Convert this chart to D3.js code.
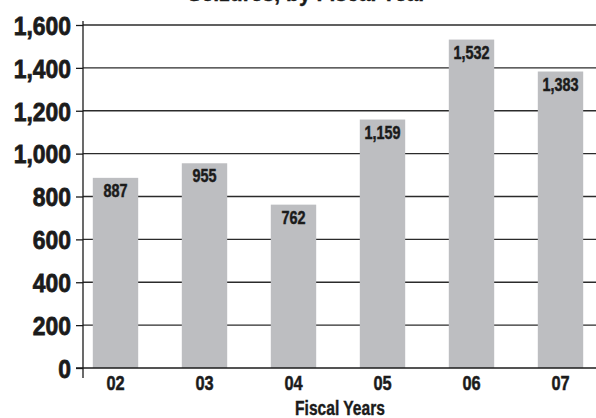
<!DOCTYPE html>
<html>
<head>
<meta charset="utf-8">
<script src="https://cdn.jsdelivr.net/npm/d3@7"></script>
<style>
  html, body { margin: 0; padding: 0; background: #fff; }
  svg { display: block; }
  text { font-family: "Liberation Sans", Arial, sans-serif; font-weight: bold; fill: #1b1b1b; }
</style>
</head>
<body>
<svg id="chart" width="596" height="418"></svg>
<script>
// Fiscal-year totals
const years = ["02", "03", "04", "05", "06", "07"];
const totals = [887, 955, 762, 1159, 1532, 1383];
const yTicks = [0, 200, 400, 600, 800, 1000, 1200, 1400, 1600];
const chartTitle = "Seizures, by Fiscal Year";
const xTitle = "Fiscal Years";

const svg = d3.select("#chart");
const axisX = 83, plotRight = 596, plotTop = 25, plotBottom = 368;
const ink = "#1b1b1b";

const y = d3.scaleLinear().domain([0, 1600]).range([plotBottom, plotTop]);
const x = d3.scaleBand().domain(years).range([71, 605]).paddingInner(0.49).paddingOuter(0.245);

// narrow heavy lettering: squeeze a bold face horizontally around its anchor point
function narrowText(sel, px, py, size, sx) {
  return sel.append("text")
    .attr("transform", `translate(${px},${py}) scale(${sx},1)`)
    .attr("text-anchor", "middle")
    .attr("font-size", size);
}

// title (sits mostly above the visible area)
narrowText(svg, 307, 0.5, 22, 0.96)
  .attr("stroke", ink).attr("stroke-width", 0.4)
  .text(chartTitle);

// horizontal gridlines
svg.append("g").selectAll("line")
  .data(yTicks.filter(d => d > 0))
  .join("line")
  .attr("x1", axisX).attr("x2", plotRight)
  .attr("y1", d => y(d)).attr("y2", d => y(d))
  .attr("stroke", "#2b2b2b").attr("stroke-width", 1.3);

const rows = years.map((yr, i) => ({ yr, v: totals[i] }));

// bars
svg.append("g").selectAll("rect")
  .data(rows)
  .join("rect")
  .attr("x", d => x(d.yr))
  .attr("width", x.bandwidth())
  .attr("y", d => y(d.v))
  .attr("height", d => y(0) - y(d.v))
  .attr("fill", "#bdbec1");

// value labels inside bar tops
const fmt = d3.format(",");
const labels = svg.append("g");
rows.forEach(d => {
  narrowText(labels, x(d.yr) + x.bandwidth() / 2, y(d.v) + 19, 18, 0.8)
    .attr("stroke", ink).attr("stroke-width", 0.5)
    .text(fmt(d.v));
});

// y axis
const ySx = 0.88;
const yAxis = d3.axisLeft(y).tickValues(yTicks).tickFormat(fmt).tickSize(7).tickPadding(5);
const gy = svg.append("g").attr("transform", `translate(${axisX},0)`).call(yAxis);
gy.select(".domain").remove();
gy.selectAll(".tick line").attr("stroke", ink).attr("stroke-width", 1.3);
gy.selectAll(".tick text")
  .attr("font-size", 26).attr("font-family", null).attr("fill", ink)
  .attr("stroke", ink).attr("stroke-width", 0.8)
  .attr("x", -12 / ySx)
  .attr("transform", `scale(${ySx},1)`)
  .attr("dy", "0.36em");
svg.append("line")
  .attr("x1", axisX).attr("x2", axisX)
  .attr("y1", plotTop - 4).attr("y2", plotBottom + 10)
  .attr("stroke", ink).attr("stroke-width", 1.3);

// x axis
const xAxis = d3.axisBottom(x).tickSize(0).tickPadding(7);
const gx = svg.append("g").attr("transform", `translate(0,${plotBottom})`).call(xAxis);
gx.select(".domain").remove();
gx.selectAll(".tick text")
  .attr("font-size", 21).attr("font-family", null).attr("fill", ink)
  .attr("stroke", ink).attr("stroke-width", 0.5)
  .attr("transform", "scale(0.78,1)")
  .attr("dy", "0.71em");
svg.append("line")
  .attr("x1", axisX - 7).attr("x2", plotRight)
  .attr("y1", plotBottom).attr("y2", plotBottom)
  .attr("stroke", ink).attr("stroke-width", 1.5);

// x axis title
narrowText(svg, 340, 415, 19.5, 0.8)
  .attr("stroke", ink).attr("stroke-width", 0.4)
  .text(xTitle);
</script>
</body>
</html>
